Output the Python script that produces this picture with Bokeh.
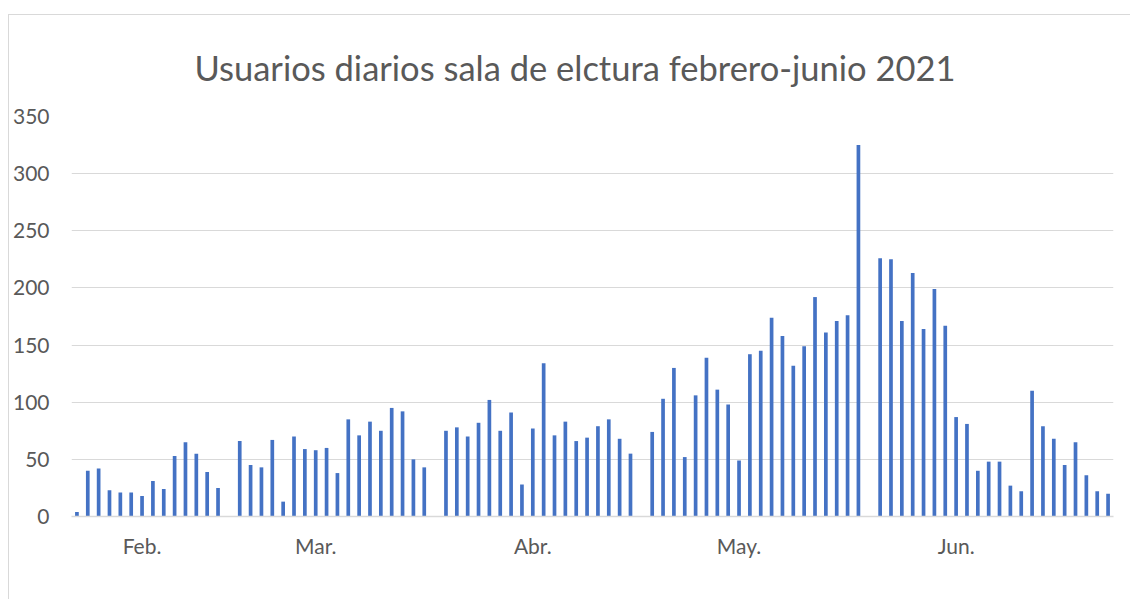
from bokeh.plotting import figure
from bokeh.models import Range1d, FixedTicker
from bokeh.embed import file_html
from bokeh.resources import INLINE

# ---- data ----
titulo = "Usuarios diarios sala de elctura febrero-junio 2021"
# slot position on the date axis of each day with data (gaps = days without data)
dias = [0, 1, 2, 3, 4, 5, 6, 7, 8, 9, 10, 11, 12, 13,
        15, 16, 17, 18, 19, 20, 21, 22, 23, 24, 25, 26, 27, 28, 29, 30, 31, 32,
        34, 35, 36, 37, 38, 39, 40, 41, 42, 43, 44, 45, 46, 47, 48, 49, 50, 51,
        53, 54, 55, 56, 57, 58, 59, 60, 61, 62, 63, 64, 65, 66, 67, 68, 69, 70, 71, 72,
        74, 75, 76, 77, 78, 79, 80, 81, 82, 83, 84, 85, 86, 87, 88, 89, 90, 91, 92, 93, 94, 95]
usuarios = [4, 40, 42, 23, 21, 21, 18, 31, 24, 53, 65, 55, 39, 25,
            66, 45, 43, 67, 13, 70, 59, 58, 60, 38, 85, 71, 83, 75, 95, 92, 50, 43,
            75, 78, 70, 82, 102, 75, 91, 28, 77, 134, 71, 83, 66, 69, 79, 85, 68, 55,
            74, 103, 130, 52, 106, 139, 111, 98, 49, 142, 145, 174, 158, 132, 149, 192, 161, 171, 176, 325,
            226, 225, 171, 213, 164, 199, 167, 87, 81, 40, 48, 48, 27, 22, 110, 79, 68, 45, 65, 36, 22, 20]
n_slots = 96
mes_pos = [6, 22, 42, 61, 81]
mes_txt = ["Feb.", "Mar.", "Abr.", "May.", "Jun."]
y_ticks = [0, 50, 100, 150, 200, 250, 300, 350]

FONT = "Lato"
GRAY = "#595959"
GRID = "#d9d9d9"
BAR = "#4472C4"

p = figure(width=1122, height=585, output_backend="svg", toolbar_location=None,
           x_range=Range1d(-0.5, n_slots - 0.5), y_range=Range1d(0, 350),
           min_border_left=61, min_border_right=18, min_border_top=101, min_border_bottom=84)
p.styles = {"border-top": f"1px solid {GRID}", "border-left": f"1px solid {GRID}",
            "margin-top": "14px", "margin-left": "8px"}
p.outline_line_color = None
p.background_fill_color = "white"
p.border_fill_color = "white"

p.vbar(x=dias, top=usuarios, width=0.34, bottom=0, color=BAR, line_color=None)

# title
p.title.text = titulo
p.title.align = "left"
p.title.offset = 123
p.title.text_font = FONT
p.title.text_font_size = "34.5px"
p.title.text_font_style = "normal"
p.title.text_color = GRAY
p.title.standoff = 57

# axes
p.yaxis.ticker = FixedTicker(ticks=y_ticks)
p.yaxis.axis_line_color = None
p.yaxis.major_tick_line_color = None
p.yaxis.minor_tick_line_color = None
p.yaxis.major_tick_out = 0
p.yaxis.minor_tick_out = 0
p.yaxis.major_label_text_font = FONT
p.yaxis.major_label_text_font_size = "21px"
p.yaxis.major_label_text_color = GRAY
p.yaxis.major_label_standoff = 22

p.xaxis.ticker = FixedTicker(ticks=mes_pos)
p.xaxis.major_label_overrides = {m: t for m, t in zip(mes_pos, mes_txt)}
p.xaxis.axis_line_color = GRID
p.xaxis.axis_line_width = 1.5
p.xaxis.major_tick_line_color = None
p.xaxis.minor_tick_line_color = None
p.xaxis.major_tick_out = 0
p.xaxis.minor_tick_out = 0
p.xaxis.major_label_text_font = FONT
p.xaxis.major_label_text_font_size = "21px"
p.xaxis.major_label_text_color = GRAY
p.xaxis.major_label_standoff = 16

p.xgrid.grid_line_color = None
p.ygrid.grid_line_color = GRID
p.ygrid.grid_line_width = 1

open("out.html", "w").write(file_html(p, INLINE))
